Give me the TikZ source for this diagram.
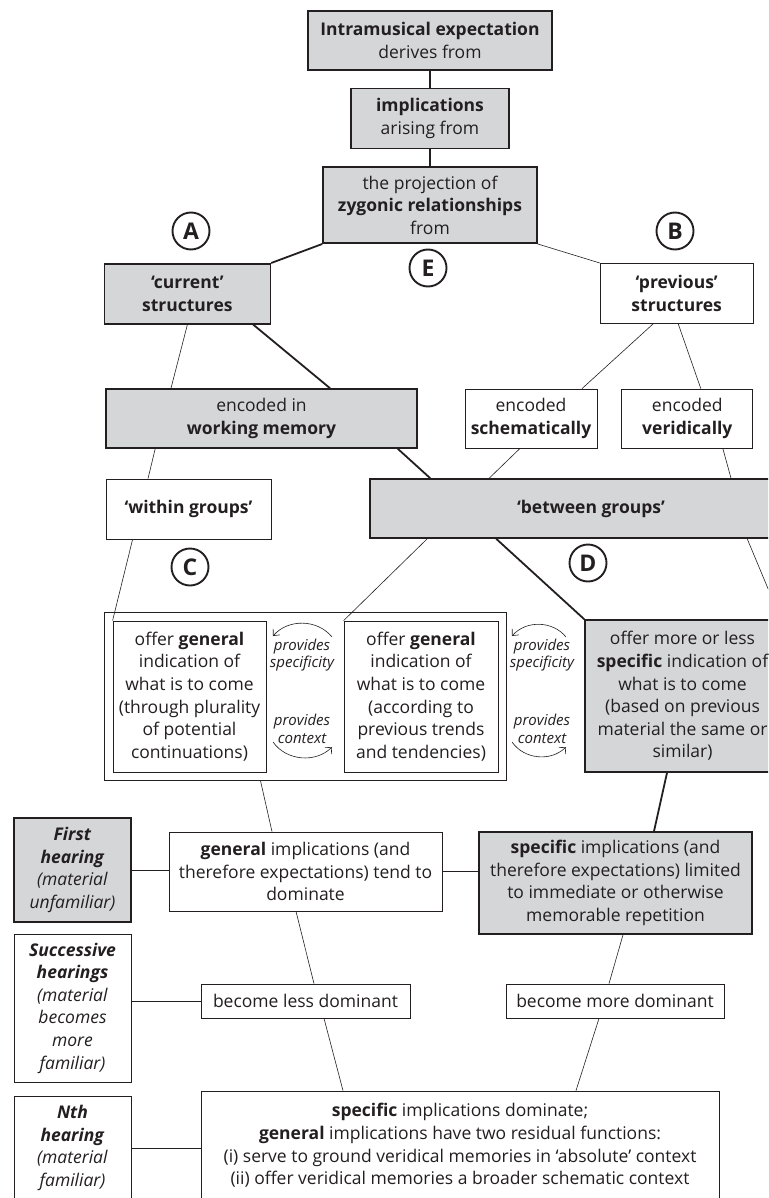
\documentclass[tikz,border=0pt]{standalone}
\usepackage{fontspec}
\setmainfont{Open Sans}
\usetikzlibrary{positioning,fit,backgrounds,arrows.meta,calc}
\definecolor{boxgray}{RGB}{213,214,216}
\definecolor{ink}{RGB}{35,31,32}
\newcommand{\bodysize}{\fontsize{17.5}{22.6}\selectfont}
\newcommand{\notesize}{\fontsize{15}{17.5}\selectfont}

\begin{document}
\begin{tikzpicture}[
    x=1pt, y=-1pt,
    font=\bodysize, color=ink,
    >={Straight Barb[length=5pt,width=9pt]},
    box/.style={draw=ink, line width=0.8pt, fill=white, align=center, inner sep=2pt},
    gbox/.style={box, fill=boxgray, line width=1.6pt},
    sz/.style 2 args={minimum width=#1pt, minimum height=#2pt},
    tag/.style={circle, draw=ink, line width=1.9pt, minimum size=37pt, inner sep=0pt, font=\fontsize{23}{23}\selectfont\bfseries},
    note/.style={font=\notesize\itshape, align=center, inner sep=0pt},
    dep/.style={draw=ink, line width=0.6pt},
    strong/.style={draw=ink, line width=1.8pt},
    swap/.style={->, draw=ink, line width=0.6pt},
]
\useasboundingbox (0,0) rectangle (768,1198);
\clip (0,0) rectangle (768,1198);

% ---- expectation chain ---------------------------------------------
\node[gbox, sz={244}{59}] (expect) at (430,40.5) {\textbf{Intramusical expectation}\\derives from};
\node[gbox, sz={158}{60}, below=17pt of expect] (implic) {\textbf{implications}\\arising from};
\node[gbox, sz={214}{76}, below=17pt of implic] (proj) {the projection of\\\textbf{zygonic relationships}\\from};

% ---- structures ----------------------------------------------------
\node[gbox, sz={166}{60}, below left=19pt and 51pt of proj] (cur) {\textbf{`current'}\\\textbf{structures}};
\node[box, sz={153}{60}, below right=19pt and 62pt of proj] (prev) {\textbf{`previous'}\\\textbf{structures}};

% ---- encoding ------------------------------------------------------
\node[gbox, sz={311}{59}] (wm) at (261.5,418.5) {encoded in\\\textbf{working memory}};
\node[box, sz={132}{59}] (schem) at (531,418.5) {encoded\\\textbf{schematically}};
\node[box, sz={131}{59}, right=24pt of schem] (verid) {encoded\\\textbf{veridically}};

% ---- groups --------------------------------------------------------
\node[box, sz={165}{60}] (within) at (188.5,509) {\textbf{`within groups'}};
\node[gbox, sz={442}{59}] (between) at (591,508.5) {\textbf{`between groups'}};

% ---- indications ---------------------------------------------------
\node[box, sz={153}{151}] (genA) at (189.5,696.5) {offer \textbf{general}\\indication of\\what is to come\\(through plurality\\of potential\\continuations)};
\node[box, sz={154}{151}] (genB) at (421,696.5) {offer \textbf{general}\\indication of\\what is to come\\(according to\\previous trends\\and tendencies)};
\node[gbox, sz={195}{152}] (spec) at (682.5,696) {offer more or less\\\textbf{specific} indication of\\what is to come\\(based on previous\\material the same or\\similar)};
\begin{scope}[on background layer]
    \node[box, fit=(genA)(genB), inner sep=8pt] (grp) {};
\end{scope}

% ---- hearings ------------------------------------------------------
\node[gbox, sz={117}{104}] (first) at (72.5,870) {\textbf{\itshape First}\\\textbf{\itshape hearing}\\\textit{(material}\\\textit{unfamiliar)}};
\node[box, sz={273}{79}] (general) at (305.5,871.5) {\textbf{general} implications (and\\therefore expectations) tend to\\dominate};
\node[gbox, sz={273}{102}] (specimpl) at (615.5,883) {\textbf{specific} implications (and\\therefore expectations) limited\\to immediate or otherwise\\memorable repetition};

\node[box, sz={117}{148}] (succ) at (72.5,1008) {\textbf{\itshape Successive}\\\textbf{\itshape hearings}\\\textit{(material}\\\textit{becomes}\\\textit{more}\\\textit{familiar)}};
\node[box, sz={209}{34}] (less) at (305.5,1001) {become less dominant};
\node[box, sz={218}{34}] (more) at (615,1001) {become more dominant};

\node[box, sz={117}{104}] (nth) at (72.5,1148) {\textbf{\itshape Nth}\\\textbf{\itshape hearing}\\\textit{(material}\\\textit{familiar)}};
\node[box, sz={518}{109}] (final) at (460,1145.5) {\textbf{specific} implications dominate;\\\textbf{general} implications have two residual functions:\\(i) serve to ground veridical memories in `absolute' context\\(ii) offer veridical memories a broader schematic context};

% ---- markers -------------------------------------------------------
\node[tag] (tagA) at (191,231) {A};
\node[tag] (tagB) at (675,231) {B};
\node[tag] (tagE) at (428,268) {E};
\node[tag] (tagC) at (190,567) {C};
\node[tag] (tagD) at (588,563) {D};

% ---- links ---------------------------------------------------------
\draw[strong] (expect) -- (implic);
\draw[strong] (implic) -- (proj);
\draw[strong] (proj.south west) -- (cur.north east);
\draw[dep] (proj.south east) -- (prev.north west);
\draw[dep] (cur.south) -- ([xshift=-90.5pt]wm.north);
\draw[strong] ([xshift=-18pt]cur.south east) -- ([xshift=68.5pt]wm.north);
\draw[dep] ([xshift=-23.5pt]prev.south) -- ([xshift=51pt]schem.north);
\draw[dep] ([xshift=1.5pt]prev.south) -- ([xshift=13.5pt]verid.north);
\draw[dep] ([xshift=50pt]wm.south west) -- ([xshift=-40.5pt]within.north);
\draw[strong] ([xshift=-20pt]wm.south east) -- ([xshift=61pt]between.north west);
\draw[dep] ([xshift=-11pt]schem.south) -- ([xshift=120pt]between.north west);
\draw[dep] ([xshift=35.5pt]verid.south) -- ([xshift=140pt]between.north);
\draw[dep] ([xshift=27pt]within.south west) -- (genA.north west);
\draw[dep] ([xshift=58pt]between.south west) -- (genB.north west);
\draw[strong] ([xshift=127pt]between.south west) -- (spec.north west);
\draw[dep] ([xshift=378pt]between.south west) -- (spec.north east);
\draw[dep] ([xshift=-45pt]grp.south) -- ([xshift=-33.5pt]general.north);
\draw[strong] ([xshift=-15.5pt]spec.south) -- ([xshift=38.5pt]specimpl.north);
\draw[dep] (first.east) -- (first.east -| general.west);
\draw[dep] (general.east) -- (general.east -| specimpl.west);
\draw[dep] (less.west -| succ.east) -- (less.west);
\draw[dep] ([xshift=-9.5pt]general.south) -- ([xshift=8.5pt]less.north);
\draw[dep] ([xshift=7.5pt]specimpl.south) -- ([xshift=-6pt]more.north);
\draw[dep] (nth.east) -- (nth.east -| final.west);
\draw[dep] ([xshift=18.5pt]less.south) -- ([xshift=-117pt]final.north);
\draw[dep] ([xshift=-16pt]more.south) -- ([xshift=116pt]final.north);

% ---- specificity / context swaps -----------------------------------
\coordinate (sAr) at (332,637); \coordinate (sAl) at (273,636);
\coordinate (cAl) at (273,742); \coordinate (cAr) at (332,747);
\coordinate (sBr) at (566,637); \coordinate (sBl) at (512,636);
\coordinate (cBl) at (512,742); \coordinate (cBr) at (566,747);
\draw[swap] (sAr) to[bend right=50] (sAl);
\draw[swap] (cAl) to[bend right=50] (cAr);
\draw[swap] (sBr) to[bend right=50] (sBl);
\draw[swap] (cBl) to[bend right=50] (cBr);
\node[note] (specA) at (302,655) {provides\\specificity};
\node[note] (ctxA) at (302,729) {provides\\context};
\node[note] (specB) at (542,655) {provides\\specificity};
\node[note] (ctxB) at (542,729) {provides\\context};

\end{tikzpicture}
\end{document}
